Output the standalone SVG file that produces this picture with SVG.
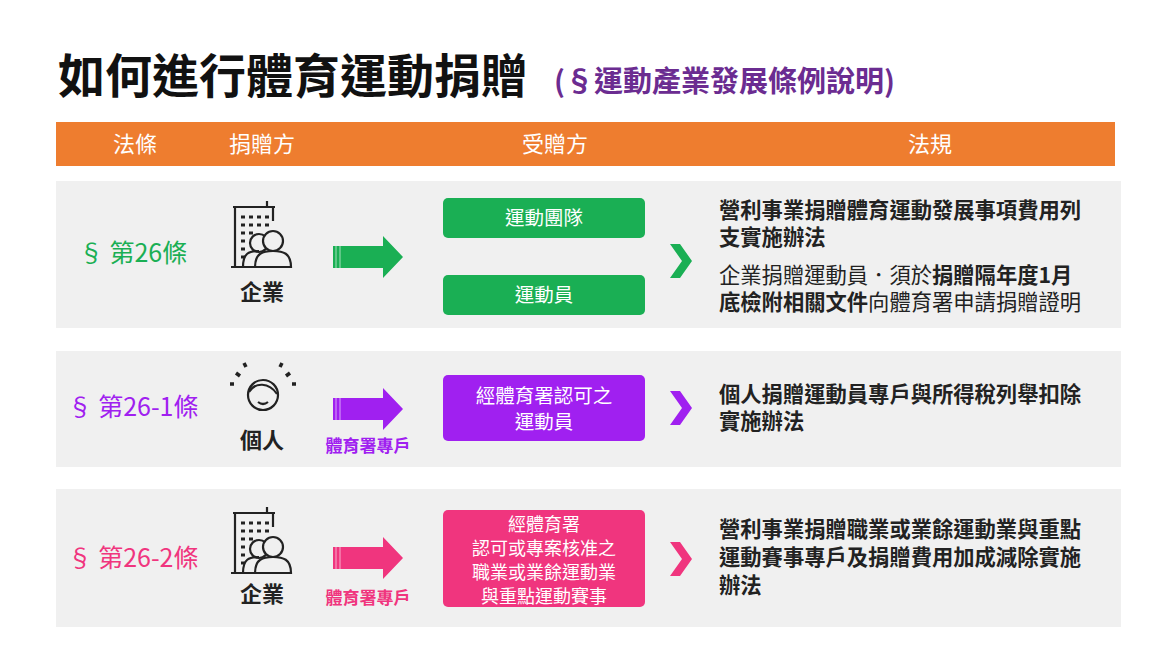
<svg xmlns="http://www.w3.org/2000/svg" width="1170" height="657" viewBox="0 0 1170 657">
<style>
text{font-family:"Noto Sans CJK TC","Noto Sans",sans-serif}
.row{fill:#f0f0f0}
.h{fill:#fff;font-size:22px;text-anchor:middle}
.law{font-size:25px;text-anchor:middle}
.b{font-size:21.3px;fill:#222;font-weight:bold}
.n{font-size:21.3px;fill:#222}
.bt{fill:#fff;font-size:19.5px;text-anchor:middle}
.bs{fill:#fff;font-size:18px;text-anchor:middle}
.lbl{font-size:22px;fill:#222;text-anchor:middle;font-weight:bold}
.sm{font-size:17px;font-weight:bold;text-anchor:middle}
.ic{fill:none;stroke:#222;stroke-width:2.2}
</style>
<defs>
<g id="bld" class="ic">
<path d="M-26,-40h30v-6M-30,-40h42M-28,-40v60M-32,20h40"/>
<path d="M-22,-30h4M-14,-30h4M-6,-30h4M2,-30h4M-22,-22h4M-14,-22h4M-6,-22h4M2,-22h4M-22,-14h4M-14,-14h4M-22,-6h4M-22,2h4M-22,10h4" stroke-width="3"/>
<path d="M10,-40v14"/>
<circle cx="-4" cy="-4" r="9"/><path d="M-20,20c0-14,6-16,16-16"/>
<circle cx="10" cy="-6" r="10" fill="#f0f0f0"/><path d="M-8,20c0-14,8-16,18-16s18,2,18,16z" fill="#f0f0f0"/>
</g>
<g id="arr"><path d="M0,-11h50v-10l20,21l-20,21v-10h-50z"/><path d="M3,-11v22M7,-11v22" stroke="#fff" stroke-width="1" opacity="0.6"/></g>
</defs>
<text x="58" y="93" font-size="47" font-weight="bold" fill="#111">如何進行體育運動捐贈</text>
<text x="554" y="92" font-size="29" font-weight="bold" fill="#6b2c91">(§運動產業發展條例說明)</text>
<g id="header">
<rect x="56" y="122" width="1059" height="44" fill="#ee7d2f"/>
<text class="h" x="135" y="152">法條</text>
<text class="h" x="262" y="152">捐贈方</text>
<text class="h" x="555" y="152">受贈方</text>
<text class="h" x="930" y="152">法規</text>
</g>
<g id="row1">
<rect class="row" x="56" y="181" width="1065" height="147"/>
<text class="law" x="133" y="262" fill="#1aaf54">§ 第26條</text>
<use href="#bld" x="263" y="247"/>
<text class="lbl" x="262" y="300">企業</text>
<g fill="#1aaf54"><use href="#arr" x="333" y="257"/></g>
<rect x="443" y="198" width="202" height="40" rx="5" fill="#1aaf54"/><text class="bt" x="544" y="225">運動團隊</text>
<rect x="443" y="275" width="202" height="40" rx="5" fill="#1aaf54"/><text class="bt" x="544" y="302">運動員</text>
<path d="M670,244l12,17l-12,17h10l12,-17l-12,-17z" fill="#1aaf54"/>
<text class="b" x="719" y="218">營利事業捐贈體育運動發展事項費用列</text>
<text class="b" x="719" y="245">支實施辦法</text>
<text class="n" x="719" y="283">企業捐贈運動員．須於<tspan font-weight="bold">捐贈隔年度1月</tspan></text>
<text class="n" x="719" y="310"><tspan font-weight="bold">底檢附相關文件</tspan>向體育署申請捐贈證明</text>
</g>
<g id="row2">
<rect class="row" x="56" y="351" width="1065" height="116"/>
<text class="law" x="133" y="416" fill="#a020f0">§ 第26-1條</text>
<g class="ic" stroke-width="2.6"><circle cx="263" cy="395" r="15"/><path d="M249,392c6-10,20-10,28,2M258,402q5,4,10,0"/>
<path d="M240,376l-4,-3M246,367l-2,-4M280,367l2,-4M286,376l4,-3M234,384h-4M292,384h4" stroke-width="3.5"/></g>
<text class="lbl" x="262" y="448">個人</text>
<g fill="#a020f0"><use href="#arr" x="333" y="409"/></g>
<text class="sm" x="368" y="452" fill="#a020f0">體育署專戶</text>
<rect x="443" y="375" width="202" height="66" rx="5" fill="#a020f0"/>
<text class="bt" x="544" y="403">經體育署認可之</text><text class="bt" x="544" y="429">運動員</text>
<path d="M670,391l12,17l-12,17h10l12,-17l-12,-17z" fill="#a020f0"/>
<text class="b" x="719" y="402">個人捐贈運動員專戶與所得稅列舉扣除</text>
<text class="b" x="719" y="429">實施辦法</text>
</g>
<g id="row3">
<rect class="row" x="56" y="489" width="1065" height="138"/>
<text class="law" x="133" y="567" fill="#f0357e">§ 第26-2條</text>
<use href="#bld" x="263" y="553"/>
<text class="lbl" x="262" y="602">企業</text>
<g fill="#f0357e"><use href="#arr" x="333" y="558"/></g>
<text class="sm" x="368" y="604" fill="#f0357e">體育署專戶</text>
<rect x="443" y="510" width="202" height="97" rx="5" fill="#f0357e"/>
<text class="bs" x="544" y="531">經體育署</text><text class="bs" x="544" y="555">認可或專案核准之</text>
<text class="bs" x="544" y="579">職業或業餘運動業</text><text class="bs" x="544" y="603">與重點運動賽事</text>
<path d="M670,542l12,17l-12,17h10l12,-17l-12,-17z" fill="#f0357e"/>
<text class="b" x="719" y="537">營利事業捐贈職業或業餘運動業與重點</text>
<text class="b" x="719" y="565">運動賽事專戶及捐贈費用加成減除實施</text>
<text class="b" x="719" y="593">辦法</text>
</g>
</svg>
